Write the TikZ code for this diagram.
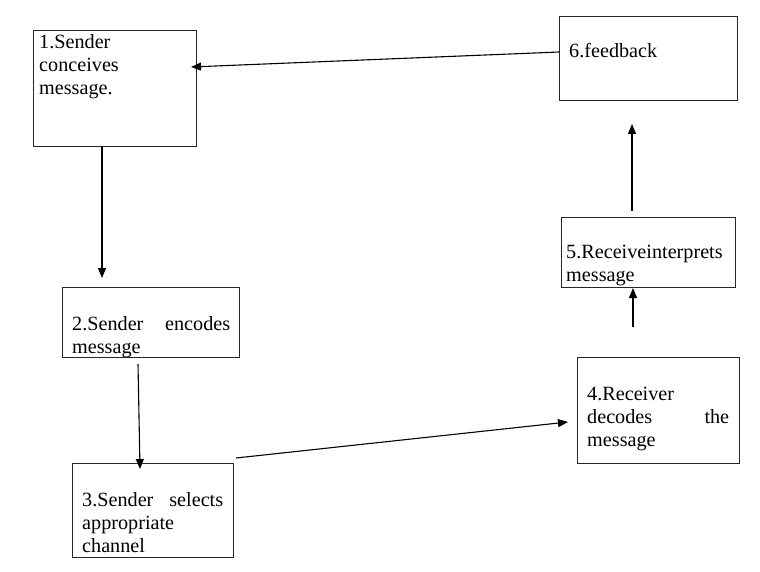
\documentclass[tikz,border=0pt]{standalone}
\usepackage{fontspec}
\setmainfont{Liberation Serif}
\usetikzlibrary{arrows.meta}
\begin{document}
\begin{tikzpicture}[x=1pt,y=-1pt,
  box/.style={draw=black!85,line width=0.9pt,rectangle,inner sep=0pt,anchor=north west},
  txt/.style={anchor=base west,inner sep=0pt,font=\fontsize{20.2}{23}\selectfont},
  arr/.style={line width=1.1pt,-{Triangle[length=10pt,width=8pt]}}]
\useasboundingbox (0,0) rectangle (760,572);
% boxes
\node[box,minimum width=163pt,minimum height=116pt] (b1) at (33,30) {};
\node[box,minimum width=177pt,minimum height=70pt] (b2) at (62,287) {};
\node[box,minimum width=161pt,minimum height=94pt] (b3) at (72,463) {};
\node[box,minimum width=162pt,minimum height=106pt] (b4) at (577,357) {};
\node[box,minimum width=174pt,minimum height=70pt] (b5) at (561,217) {};
\node[box,minimum width=178pt,minimum height=84pt] (b6) at (559,16) {};
% texts
\node[txt] (t1a) at (39,49) {1.Sender};
\node[txt] (t1b) at (39,72) {conceives};
\node[txt] (t1c) at (39,95) {message.};
\node[txt] (t2a) at (72,330) {\hbox to 158pt{2.Sender\hfill encodes}};
\node[txt] (t2b) at (72,353) {message};
\node[txt] (t3a) at (82,506) {\hbox to 141pt{3.Sender\hfill selects}};
\node[txt] (t3b) at (82,529) {appropriate};
\node[txt] (t3c) at (82,552) {channel};
\node[txt] (t4a) at (587,400) {4.Receiver};
\node[txt] (t4b) at (587,423) {\hbox to 142pt{decodes\hfill the}};
\node[txt] (t4c) at (587,446) {message};
\node[txt] (t5a) at (566,258) {5.Receiveinterprets};
\node[txt] (t5b) at (566,281) {message};
\node[txt] (t6a) at (569,58) {6.feedback};
% connector end points
\coordinate (a61s) at (559,52);  \coordinate (a61e) at (191,67);
\coordinate (a12s) at (102,146); \coordinate (a12e) at (102,278);
\coordinate (a23s) at (138,364); \coordinate (a23e) at (140,469);
\coordinate (a34s) at (236,458); \coordinate (a34e) at (568,422);
\coordinate (a45s) at (633,327); \coordinate (a45e) at (633,288);
\coordinate (a56s) at (632,211); \coordinate (a56e) at (632,124);
\draw[arr] (a61s) -- (a61e);
\draw[arr] (a12s) -- (a12e);
\draw[arr] (a23s) -- (a23e);
\draw[arr] (a34s) -- (a34e);
\draw[arr] (a45s) -- (a45e);
\draw[arr] (a56s) -- (a56e);
\end{tikzpicture}
\end{document}
